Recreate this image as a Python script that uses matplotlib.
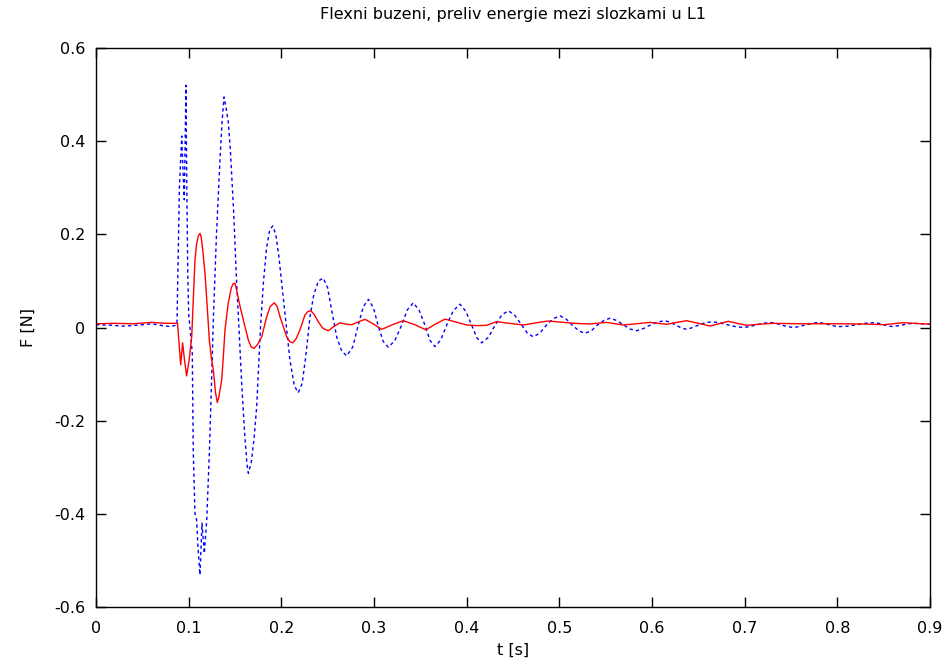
import matplotlib
matplotlib.use("Agg")
import matplotlib.pyplot as plt
from matplotlib.ticker import FixedLocator, FuncFormatter

plt.rcParams['font.family'] = ['DejaVu Sans']

title = "Flexni buzeni, preliv energie mezi slozkami u L1"
x_label = "t [s]"
y_label = "F [N]"
x_ticks = [0, 0.1, 0.2, 0.3, 0.4, 0.5, 0.6, 0.7, 0.8, 0.9]
y_ticks = [-0.6, -0.4, -0.2, 0, 0.2, 0.4, 0.6]

# dashed blue component
t_blue = [0.000, 0.015, 0.030, 0.045, 0.060, 0.072, 0.080, 0.0865, 0.0874,
          0.0900, 0.0925, 0.0940, 0.0953, 0.0962, 0.0971, 0.0980, 0.0990,
          0.1000, 0.1014, 0.1039, 0.1050, 0.1068, 0.1086, 0.1100, 0.1122,
          0.1144, 0.1169, 0.1195, 0.1223, 0.1245, 0.1266, 0.1300, 0.1338,
          0.1360, 0.1381, 0.1405, 0.1427, 0.1450, 0.1485, 0.1518, 0.1545,
          0.1572, 0.1605, 0.1630, 0.1644, 0.1675, 0.1705, 0.1734, 0.1775,
          0.1806, 0.1840, 0.1875, 0.1907, 0.1940, 0.1975, 0.2004, 0.2045,
          0.2093, 0.2140, 0.2183, 0.2225, 0.2265, 0.2309, 0.2350, 0.2400,
          0.2453, 0.2500, 0.2550, 0.2597, 0.2650, 0.2705, 0.2770, 0.2830,
          0.2885, 0.2940, 0.2995, 0.3047, 0.3100, 0.3155, 0.3225, 0.3298,
          0.3360, 0.3424, 0.3487, 0.3550, 0.3605, 0.3658, 0.3720, 0.3784,
          0.3855, 0.3928, 0.3990, 0.4054, 0.4110, 0.4162, 0.4235, 0.4306,
          0.4380, 0.4450, 0.4520, 0.4594, 0.4655, 0.4719, 0.4790, 0.4860,
          0.4935, 0.5007, 0.5075, 0.5140, 0.5210, 0.5277, 0.5345, 0.5410,
          0.5480, 0.5547, 0.5620, 0.5690, 0.5760, 0.5835, 0.5910, 0.5990,
          0.6065, 0.6140, 0.6200, 0.6260, 0.6315, 0.6374, 0.6440, 0.6510,
          0.6575, 0.6644, 0.6725, 0.6810, 0.6900, 0.6985, 0.7060, 0.7130,
          0.7200, 0.7273, 0.7335, 0.7400, 0.7460, 0.7525, 0.7590, 0.7660,
          0.7730, 0.7795, 0.7850, 0.7910, 0.7970, 0.8028, 0.8120, 0.8210,
          0.8300, 0.8390, 0.8445, 0.8500, 0.8550, 0.8604, 0.8660, 0.8710,
          0.8765, 0.8820, 0.8900, 0.9000]
f_blue = [0.006, 0.005, 0.003, 0.005, 0.008, 0.004, 0.002, 0.005, 0.010,
          0.300, 0.411, 0.330, 0.274, 0.400, 0.520, 0.300, 0.120,
          0.030, 0.000, -0.055, -0.270, -0.399, -0.413, -0.470, -0.531,
          -0.420, -0.485, -0.413, -0.270, -0.130, 0.016, 0.200, 0.360,
          0.440, 0.495, 0.470, 0.442, 0.381, 0.250, 0.095, -0.010,
          -0.120, -0.230, -0.295, -0.313, -0.290, -0.240, -0.170, 0.000,
          0.095, 0.170, 0.210, 0.218, 0.200, 0.150, 0.095, 0.020,
          -0.070, -0.125, -0.140, -0.120, -0.060, 0.023, 0.070, 0.100,
          0.106, 0.085, 0.030, -0.020, -0.050, -0.061, -0.042, 0.005,
          0.045, 0.0605, 0.042, 0.002, -0.030, -0.0425, -0.028, 0.005,
          0.038, 0.053, 0.037, 0.005, -0.028, -0.041, -0.027, 0.005,
          0.036, 0.050, 0.035, 0.005, -0.022, -0.033, -0.021, 0.005,
          0.027, 0.036, 0.026, 0.005, -0.012, -0.020, -0.012, 0.005,
          0.019, 0.025, 0.018, 0.005, -0.007, -0.0125, -0.007, 0.005,
          0.015, 0.020, 0.015, 0.006, -0.003, -0.007, -0.002, 0.006,
          0.012, 0.0146, 0.011, 0.005, -0.001, -0.004, 0.000, 0.006,
          0.010, 0.0125, 0.010, 0.006, 0.002, 0.000, 0.002, 0.006,
          0.009, 0.011, 0.009, 0.005, 0.002, 0.000, 0.002, 0.006,
          0.009, 0.011, 0.009, 0.006, 0.003, 0.002, 0.003, 0.006,
          0.009, 0.0103, 0.009, 0.006, 0.003, 0.002, 0.004, 0.006,
          0.008, 0.009, 0.008, 0.007]

# solid red component
t_red = [0.000, 0.020, 0.040, 0.060, 0.075, 0.0880, 0.0914, 0.0935, 0.0955,
         0.0978, 0.1005, 0.1033, 0.1050, 0.1068, 0.1086, 0.1105, 0.1122,
         0.1135, 0.1150, 0.1176, 0.1200, 0.1223, 0.1245, 0.1266, 0.1290,
         0.1309, 0.1325, 0.1356, 0.1375, 0.1392, 0.1427, 0.1460, 0.1480,
         0.1500, 0.1518, 0.1555, 0.1590, 0.1644, 0.1675, 0.1705, 0.1745,
         0.1788, 0.1842, 0.1880, 0.1924, 0.1955, 0.1986, 0.2058, 0.2090,
         0.2122, 0.2160, 0.2201, 0.2255, 0.2285, 0.2317, 0.2355, 0.2399,
         0.2450, 0.2507, 0.2565, 0.2630, 0.2700, 0.2760, 0.2830, 0.2903,
         0.2990, 0.3083, 0.3200, 0.3316, 0.3440, 0.3560, 0.3660, 0.3766,
         0.3880, 0.4000, 0.4110, 0.4216, 0.4320, 0.4460, 0.4610, 0.4750,
         0.4880, 0.5000, 0.5160, 0.5330, 0.5510, 0.5690, 0.5830, 0.5980,
         0.6160, 0.6270, 0.6374, 0.6500, 0.6626, 0.6720, 0.6823, 0.6920,
         0.7022, 0.7160, 0.7310, 0.7600, 0.8000, 0.8300, 0.8500, 0.8710,
         0.9000]
f_red = [0.008, 0.009, 0.008, 0.011, 0.009, 0.009, -0.080, -0.033, -0.070,
         -0.104, -0.070, -0.020, 0.060, 0.145, 0.180, 0.197, 0.202,
         0.195, 0.170, 0.116, 0.045, -0.027, -0.065, -0.091, -0.140,
         -0.161, -0.150, -0.113, -0.060, -0.005, 0.052, 0.085, 0.094,
         0.095, 0.080, 0.045, 0.016, -0.027, -0.042, -0.045, -0.036,
         -0.020, 0.023, 0.045, 0.053, 0.045, 0.023, -0.020, -0.030,
         -0.033, -0.024, -0.005, 0.027, 0.034, 0.036, 0.028, 0.012,
         -0.002, -0.007, 0.002, 0.010, 0.007, 0.006, 0.012, 0.0176,
         0.008, -0.004, 0.006, 0.0146, 0.006, -0.005, 0.007, 0.018,
         0.012, 0.0054, 0.004, 0.0047, 0.0125, 0.009, 0.0054, 0.010,
         0.014, 0.0118, 0.009, 0.0075, 0.011, 0.0054, 0.008, 0.011,
         0.0068, 0.011, 0.0146, 0.009, 0.0032, 0.008, 0.0133, 0.009,
         0.0047, 0.007, 0.009, 0.008, 0.008, 0.0075, 0.006, 0.0103,
         0.007]

fig = plt.figure(figsize=(9.48, 6.68), dpi=100)
ax = fig.add_axes([96 / 948, 1 - 607 / 668, 834 / 948, 559 / 668])

ax.plot(t_blue, f_blue, color='#0000ff', lw=1.0, dashes=(2.4, 2.2))
ax.plot(t_red, f_red, color='#ff0000', lw=1.0)

ax.set_xlim(0, 0.9)
ax.set_ylim(-0.6, 0.6)
ax.xaxis.set_major_locator(FixedLocator(x_ticks))
ax.yaxis.set_major_locator(FixedLocator(y_ticks))

fmt = FuncFormatter(lambda v, pos: "0" if abs(v) < 1e-9 else f"{v:g}")
ax.xaxis.set_major_formatter(fmt)
ax.yaxis.set_major_formatter(fmt)

ax.tick_params(direction='in', length=7, width=1, top=True, right=True,
               labelsize=11.5, colors='black')
ax.tick_params(axis='x', pad=10)
ax.tick_params(axis='y', pad=7.5)
for s in ax.spines.values():
    s.set_linewidth(1.0)

ax.set_title(title, fontsize=11.5, pad=21)
ax.set_xlabel(x_label, fontsize=11.5)
ax.set_ylabel(y_label, fontsize=11.5)
ax.xaxis.set_label_coords(0.5, -0.064)
ax.yaxis.set_label_coords(-0.072, 0.5)

fig.savefig("out.png", dpi=100)
